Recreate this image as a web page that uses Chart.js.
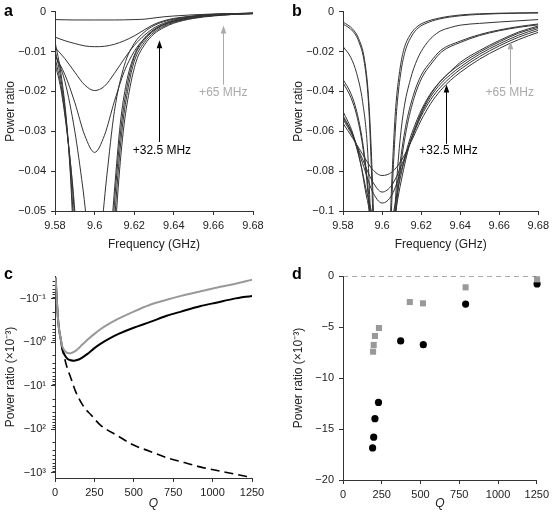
<!DOCTYPE html>
<html>
<head>
<meta charset="utf-8">
<script src="https://cdn.jsdelivr.net/npm/chart.js@4.4.1/dist/chart.umd.min.js"></script>
<style>
  body { margin: 0; background: #fff; }
  #fig { position: relative; width: 553px; height: 518px; overflow: hidden; }
  canvas { position: absolute; }
  .lbl { position: absolute; font: bold 16px 'Liberation Sans', Arial, sans-serif; line-height: 16px; color: #000; }
</style>
</head>
<body>
<div id="fig">
  <canvas id="chartA" width="276" height="259" style="left:0;top:0"></canvas>
  <canvas id="chartB" width="265" height="259" style="left:288px;top:0"></canvas>
  <canvas id="chartC" width="276" height="259" style="left:0;top:259px"></canvas>
  <canvas id="chartD" width="265" height="259" style="left:288px;top:259px"></canvas>
  <div class="lbl" style="left:4px;top:3px">a</div>
  <div class="lbl" style="left:292px;top:3px">b</div>
  <div class="lbl" style="left:4px;top:266px">c</div>
  <div class="lbl" style="left:292px;top:266px">d</div>
</div>
<script>
const FONT = "'Liberation Sans', Arial, Helvetica, sans-serif";

// ---- panel a: power ratio vs frequency (GHz), one list of [f, P] per trace
const a1 = [[9.58,-0.0020],[9.59,-0.0021],[9.60,-0.0021],[9.61,-0.0021],[9.62,-0.0020],[9.625,-0.0019],[9.63,-0.0016],[9.635,-0.0013],[9.64,-0.0011],[9.65,-0.0008],[9.66,-0.0006],[9.67,-0.0005],[9.68,-0.0004]];
const a2 = [[9.58,-0.0064],[9.585,-0.0073],[9.59,-0.0080],[9.595,-0.0086],[9.60,-0.0088],[9.605,-0.0087],[9.61,-0.0082],[9.615,-0.0073],[9.62,-0.0061],[9.625,-0.0046],[9.63,-0.0032],[9.635,-0.0023],[9.64,-0.0017],[9.65,-0.0011],[9.66,-0.0007],[9.67,-0.0005],[9.68,-0.0004]];
const a3 = [[9.58,-0.0090],[9.585,-0.0118],[9.59,-0.0152],[9.595,-0.0184],[9.60,-0.0198],[9.605,-0.0187],[9.61,-0.0155],[9.615,-0.0118],[9.62,-0.0085],[9.625,-0.0060],[9.63,-0.0041],[9.635,-0.0029],[9.64,-0.0021],[9.65,-0.0012],[9.66,-0.0008],[9.67,-0.0006],[9.68,-0.0004]];
const a4 = [[9.58,-0.0110],[9.585,-0.0158],[9.59,-0.0228],[9.595,-0.0310],[9.60,-0.0353],[9.605,-0.0310],[9.61,-0.0225],[9.615,-0.0150],[9.62,-0.0100],[9.625,-0.0068],[9.63,-0.0046],[9.635,-0.0032],[9.64,-0.0023],[9.65,-0.0013],[9.66,-0.0008],[9.67,-0.0006],[9.68,-0.0004]];
const a5 = [[9.58,-0.0105],[9.585,-0.0175],[9.59,-0.0300],[9.594,-0.0440],[9.597,-0.0560],[9.60,-0.0600],[9.603,-0.0560],[9.606,-0.0420],[9.61,-0.0250],[9.615,-0.0135],[9.62,-0.0080],[9.625,-0.0052],[9.63,-0.0035],[9.635,-0.0025],[9.64,-0.0019],[9.65,-0.0011],[9.66,-0.0007],[9.67,-0.0005],[9.68,-0.0004]];
const a6 = [[9.58,-0.0130],[9.583,-0.0195],[9.586,-0.0300],[9.589,-0.0440],[9.592,-0.0620],[9.60,-0.0900],[9.607,-0.0640],[9.61,-0.0450],[9.613,-0.0280],[9.616,-0.0180],[9.62,-0.0110],[9.625,-0.0068],[9.63,-0.0045],[9.635,-0.0032],[9.64,-0.0024],[9.65,-0.0014],[9.66,-0.0009],[9.67,-0.0006],[9.68,-0.0005]];
const a7 = [[9.58,-0.0115],[9.583,-0.0185],[9.586,-0.0295],[9.589,-0.0450],[9.5915,-0.0650],[9.60,-0.1000],[9.607,-0.0700],[9.6105,-0.0450],[9.6135,-0.0285],[9.6165,-0.0185],[9.62,-0.0115],[9.625,-0.0072],[9.63,-0.0048],[9.635,-0.0034],[9.64,-0.0025],[9.65,-0.0015],[9.66,-0.0010],[9.67,-0.0007],[9.68,-0.0005]];
const a8 = [[9.58,-0.0095],[9.583,-0.0170],[9.586,-0.0290],[9.5885,-0.0450],[9.591,-0.0680],[9.60,-0.1200],[9.608,-0.0700],[9.611,-0.0460],[9.614,-0.0290],[9.617,-0.0190],[9.62,-0.0125],[9.625,-0.0078],[9.63,-0.0052],[9.635,-0.0037],[9.64,-0.0027],[9.65,-0.0016],[9.66,-0.0010],[9.67,-0.0007],[9.68,-0.0005]];
const a9 = [[9.58,-0.0075],[9.583,-0.0155],[9.586,-0.0285],[9.588,-0.0430],[9.5905,-0.0700],[9.60,-0.1400],[9.6085,-0.0720],[9.6115,-0.0470],[9.6145,-0.0300],[9.6175,-0.0200],[9.621,-0.0125],[9.625,-0.0085],[9.63,-0.0056],[9.635,-0.0040],[9.64,-0.0029],[9.65,-0.0017],[9.66,-0.0011],[9.67,-0.0007],[9.68,-0.0005]];

// ---- panel b
const b1 = [[9.58,-0.0052],[9.585,-0.0088],[9.588,-0.0135],[9.591,-0.0240],[9.593,-0.0420],[9.5945,-0.0700],[9.5956,-0.1000],[9.60,-0.2500],[9.6044,-0.1000],[9.6057,-0.0700],[9.607,-0.0480],[9.609,-0.0300],[9.611,-0.0195],[9.6145,-0.0115],[9.618,-0.0075],[9.622,-0.0053],[9.629,-0.0033],[9.64,-0.0017],[9.65,-0.0011],[9.66,-0.0008],[9.68,-0.0005]];
const b2 = [[9.58,-0.0062],[9.585,-0.0098],[9.588,-0.0148],[9.591,-0.0260],[9.593,-0.0450],[9.5942,-0.0700],[9.5952,-0.1000],[9.60,-0.2500],[9.6048,-0.1000],[9.6062,-0.0700],[9.6076,-0.0480],[9.6097,-0.0300],[9.6118,-0.0200],[9.6152,-0.0122],[9.6185,-0.0082],[9.6225,-0.0059],[9.629,-0.0038],[9.64,-0.0021],[9.65,-0.0014],[9.66,-0.0010],[9.68,-0.0007]];
const b3 = [[9.58,-0.0175],[9.584,-0.0230],[9.587,-0.0310],[9.59,-0.0450],[9.5925,-0.0680],[9.594,-0.1000],[9.60,-0.2200],[9.6065,-0.1000],[9.6085,-0.0720],[9.611,-0.0500],[9.6145,-0.0340],[9.618,-0.0240],[9.622,-0.0170],[9.626,-0.0125],[9.63,-0.0097],[9.635,-0.0080],[9.64,-0.0068],[9.65,-0.0059],[9.66,-0.0052],[9.68,-0.0040]];
const b4 = [[9.58,-0.0340],[9.584,-0.0410],[9.587,-0.0500],[9.59,-0.0650],[9.5925,-0.0850],[9.5938,-0.1000],[9.60,-0.2000],[9.6068,-0.1000],[9.609,-0.0780],[9.612,-0.0580],[9.616,-0.0420],[9.62,-0.0320],[9.625,-0.0250],[9.63,-0.0195],[9.64,-0.0148],[9.65,-0.0115],[9.66,-0.0092],[9.67,-0.0075],[9.68,-0.0062]];
const b5 = [[9.58,-0.0356],[9.584,-0.0430],[9.587,-0.0520],[9.59,-0.0670],[9.5925,-0.0880],[9.5934,-0.1000],[9.60,-0.2000],[9.6072,-0.1000],[9.6095,-0.0780],[9.6125,-0.0590],[9.6165,-0.0430],[9.6205,-0.0330],[9.6255,-0.0258],[9.6305,-0.0202],[9.64,-0.0155],[9.65,-0.0120],[9.66,-0.0096],[9.67,-0.0079],[9.68,-0.0066]];
const b6 = [[9.58,-0.0560],[9.585,-0.0635],[9.59,-0.0715],[9.595,-0.0790],[9.60,-0.0822],[9.605,-0.0805],[9.61,-0.0745],[9.615,-0.0650],[9.62,-0.0545],[9.625,-0.0460],[9.63,-0.0395],[9.635,-0.0345],[9.64,-0.0305],[9.65,-0.0238],[9.66,-0.0185],[9.67,-0.0140],[9.68,-0.0104]];
const b7 = [[9.58,-0.0540],[9.585,-0.0625],[9.59,-0.0740],[9.595,-0.0850],[9.60,-0.0905],[9.605,-0.0870],[9.61,-0.0770],[9.615,-0.0640],[9.62,-0.0525],[9.625,-0.0440],[9.63,-0.0378],[9.635,-0.0330],[9.64,-0.0290],[9.65,-0.0225],[9.66,-0.0172],[9.67,-0.0128],[9.68,-0.0094]];
const b8 = [[9.58,-0.0530],[9.585,-0.0620],[9.59,-0.0760],[9.595,-0.0900],[9.60,-0.0960],[9.605,-0.0920],[9.61,-0.0790],[9.615,-0.0640],[9.62,-0.0515],[9.625,-0.0425],[9.63,-0.0362],[9.635,-0.0316],[9.64,-0.0278],[9.65,-0.0213],[9.66,-0.0162],[9.67,-0.0118],[9.68,-0.0085]];
const b9 = [[9.58,-0.0520],[9.585,-0.0620],[9.589,-0.0760],[9.592,-0.0900],[9.5945,-0.1000],[9.60,-0.1300],[9.606,-0.1000],[9.609,-0.0850],[9.613,-0.0680],[9.618,-0.0540],[9.623,-0.0440],[9.628,-0.0370],[9.634,-0.0310],[9.64,-0.0265],[9.65,-0.0203],[9.66,-0.0152],[9.67,-0.0108],[9.68,-0.0078]];
const b10 = [[9.58,-0.0500],[9.585,-0.0610],[9.589,-0.0760],[9.5915,-0.0900],[9.5935,-0.1000],[9.60,-0.1500],[9.607,-0.1000],[9.61,-0.0840],[9.614,-0.0670],[9.619,-0.0530],[9.624,-0.0430],[9.629,-0.0360],[9.635,-0.0300],[9.64,-0.0255],[9.65,-0.0195],[9.66,-0.0145],[9.67,-0.0102],[9.68,-0.0072]];

// arrow notes (frequency, tail, tip, text position)
const notesA = [
  { f: 9.6325, tail: -0.0327, tip: -0.0072, text: '+32.5 MHz', textF: 9.634, textY: -0.0350, color: '#000' },
  { f: 9.665, tail: -0.0183, tip: -0.0035, text: '+65 MHz', textF: 9.665, textY: -0.0203, color: '#aaa' }
];
const notesB = [
  { f: 9.6325, tail: -0.0663, tip: -0.0366, text: '+32.5 MHz', textF: 9.634, textY: -0.0698, color: '#000' },
  { f: 9.6654, tail: -0.0366, tip: -0.0149, text: '+65 MHz', textF: 9.6654, textY: -0.0406, color: '#aaa' }
];

// ---- panel c: power ratio (x1e-3) vs Q
const cQ = [4, 11, 19, 27, 36, 46, 57, 67, 80, 99, 120, 140, 162, 204, 250, 288, 350, 400, 499, 600, 709, 800, 920, 1030, 1131, 1250];
const cBlack = [-0.033, -0.1, -0.29, -0.55, -0.83, -1.45, -1.85, -2.15, -2.45, -2.62, -2.69, -2.6, -2.4, -1.9, -1.38, -1.1, -0.81, -0.66, -0.47, -0.35, -0.25, -0.2, -0.151, -0.123, -0.102, -0.087];
const cGray = [-0.033, -0.1, -0.29, -0.55, -0.83, -1.25, -1.5, -1.68, -1.79, -1.81, -1.68, -1.5, -1.26, -0.9, -0.65, -0.51, -0.37, -0.295, -0.2, -0.141, -0.107, -0.087, -0.069, -0.056, -0.047, -0.037];
const cDashQ = [42, 60, 78, 100, 131, 183, 230, 288, 400, 499, 600, 709, 820, 920, 1050, 1150, 1250];
const cDash = [-1.2, -2.3, -4.0, -6.6, -13.8, -31, -48, -81, -145, -234, -324, -457, -590, -741, -933, -1100, -1318];
const cDecades = [0.1, 1, 10, 100, 1000];
const cDecadeLabels = ['\u221210\u207B\u00B9', '\u221210\u2070', '\u221210\u00B9', '\u221210\u00B2', '\u221210\u00B3'];
const cMinor = [2, 3, 4, 5, 6, 7, 8, 9];

// ---- panel d: measured points
const dQGray = [194, 198, 206, 232, 431, 516, 791, 1252];
const dPGray = [-7.42, -6.76, -5.88, -5.1, -2.55, -2.68, -1.11, -0.33];
const dQBlack = [191, 198, 206, 229, 372, 518, 791, 1252];
const dPBlack = [-16.86, -15.8, -13.99, -12.39, -6.37, -6.73, -2.75, -0.78];
const dZero = [0, 1250];

const toPts = arr => arr.map(([x, y]) => ({ x, y }));
const minus = s => s.replace('-', '\u2212');

const arrowNotes = {
  id: 'arrowNotes',
  afterDatasetsDraw(chart, args, opts) {
    const { ctx, scales: { x, y } } = chart;
    (opts.items || []).forEach(n => {
      const px = Math.round(x.getPixelForValue(n.f)) + 0.5;
      const y0 = y.getPixelForValue(n.tail);
      const y1 = y.getPixelForValue(n.tip);
      ctx.save();
      ctx.strokeStyle = n.color;
      ctx.fillStyle = n.color;
      ctx.lineWidth = 1;
      ctx.beginPath();
      ctx.moveTo(px, y0);
      ctx.lineTo(px, y1 + 5);
      ctx.stroke();
      ctx.beginPath();
      ctx.moveTo(px, y1);
      ctx.lineTo(px - 2.8, y1 + 8);
      ctx.lineTo(px + 2.8, y1 + 8);
      ctx.closePath();
      ctx.fill();
      ctx.font = '12px ' + FONT;
      ctx.textAlign = 'center';
      ctx.textBaseline = 'middle';
      ctx.fillText(n.text, x.getPixelForValue(n.textF), y.getPixelForValue(n.textY));
      ctx.restore();
    });
  }
};

const minorTicks = {
  id: 'minorTicks',
  afterDraw(chart, args, opts) {
    if (!opts.on) return;
    const { ctx, scales: { y }, chartArea } = chart;
    ctx.save();
    ctx.strokeStyle = '#333';
    ctx.lineWidth = 1;
    y.ticks.forEach(t => {
      if (cDecades.includes(t.value)) return;
      const py = Math.round(y.getPixelForValue(t.value)) + 0.5;
      ctx.beginPath();
      ctx.moveTo(chartArea.left - 2.5, py);
      ctx.lineTo(chartArea.left, py);
      ctx.stroke();
    });
    ctx.restore();
  }
};

Chart.register(arrowNotes, minorTicks);

const tickFont = { family: FONT, size: 11 };
const titleFont = { family: FONT, size: 12 };

function axis(extra) {
  return Object.assign({
    grid: { drawOnChartArea: false, tickLength: 4, color: '#333' },
    border: { color: '#333', width: 1 },
    ticks: { font: tickFont, color: '#222', autoSkip: false, maxRotation: 0 }
  }, extra);
}

function freqScales(yMin, yStep) {
  return {
    x: axis({
      type: 'linear', min: 9.58, max: 9.68,
      ticks: { font: tickFont, color: '#222', autoSkip: false, maxRotation: 0, padding: 4, stepSize: 0.02,
        callback: v => String(Number(v.toFixed(2))) },
      title: { display: true, text: 'Frequency (GHz)', font: titleFont, color: '#222', padding: { top: 0, bottom: 7 } },
      afterFit: s => { s.height = 48; }
    }),
    y: axis({
      type: 'linear', min: yMin, max: 0,
      ticks: { font: tickFont, color: '#222', autoSkip: false, padding: 5, stepSize: yStep,
        callback: v => { const r = Number(v.toFixed(3)); return r === 0 ? '0' : minus(String(r)); } },
      title: { display: true, text: 'Power ratio', font: titleFont, color: '#222', padding: { top: 3, bottom: 0 } },
      afterFit: s => { s.width = 55; }
    })
  };
}

function qAxis(height) {
  return axis({
    type: 'linear', min: 0, max: 1250,
    ticks: { font: tickFont, color: '#222', autoSkip: false, maxRotation: 0, padding: 4, stepSize: 250,
      callback: v => String(v) },
    title: { display: true, text: 'Q', font: { family: FONT, size: 12, style: 'italic' }, color: '#222', padding: { top: 0, bottom: 7 } },
    afterFit: s => { s.height = height; }
  });
}

function traces(list, color) {
  return list.map(arr => ({
    data: toPts(arr),
    borderColor: color,
    borderWidth: 1,
    pointRadius: 0,
    cubicInterpolationMode: 'monotone',
    fill: false
  }));
}

const base = {
  animation: false,
  responsive: false,
  devicePixelRatio: 1,
  events: []
};

// panel a
new Chart(document.getElementById('chartA'), {
  type: 'line',
  data: { datasets: traces([a1, a2, a3, a4, a5, a6, a7, a8, a9], '#333') },
  options: Object.assign({}, base, {
    layout: { padding: { top: 9, right: 23, bottom: 0, left: 0 } },
    scales: freqScales(-0.05, 0.01),
    plugins: { legend: { display: false }, tooltip: { enabled: false }, arrowNotes: { items: notesA } }
  })
});

// panel b
new Chart(document.getElementById('chartB'), {
  type: 'line',
  data: { datasets: traces([b1, b2, b3, b4, b5, b6, b7, b8, b9, b10], '#333') },
  options: Object.assign({}, base, {
    layout: { padding: { top: 9, right: 12, bottom: 0, left: 0 } },
    scales: freqScales(-0.1, 0.02),
    plugins: { legend: { display: false }, tooltip: { enabled: false }, arrowNotes: { items: notesB } }
  })
});

// panel c (log magnitude, plotted downward)
const cTicks = [];
[0.01, 0.1, 1, 10, 100, 1000].forEach((d, i) => {
  if (i > 0) cTicks.push(d);
  cMinor.forEach(m => cTicks.push(m * d));
});

new Chart(document.getElementById('chartC'), {
  type: 'line',
  data: {
    datasets: [
      { data: cQ.map((q, i) => ({ x: q, y: -cGray[i] })), borderColor: '#999', borderWidth: 2, pointRadius: 0, cubicInterpolationMode: 'monotone' },
      { data: cQ.map((q, i) => ({ x: q, y: -cBlack[i] })), borderColor: '#000', borderWidth: 2, pointRadius: 0, cubicInterpolationMode: 'monotone' },
      { data: cDashQ.map((q, i) => ({ x: q, y: -cDash[i] })), borderColor: '#000', borderWidth: 1.6, borderDash: [9, 5], pointRadius: 0, cubicInterpolationMode: 'monotone' }
    ]
  },
  options: Object.assign({}, base, {
    layout: { padding: { top: 17, right: 24, bottom: 0, left: 0 } },
    scales: {
      x: qAxis(40),
      y: {
        type: 'logarithmic', reverse: true, min: 0.0304, max: 1337,
        grid: { drawOnChartArea: false, tickLength: 4,
          tickColor: c => cDecades.includes(c.tick && c.tick.value) ? '#333' : 'rgba(0,0,0,0)' },
        border: { color: '#333', width: 1 },
        afterBuildTicks: s => { s.ticks = cTicks.filter(v => v >= s.min && v <= s.max).map(v => ({ value: v })); },
        ticks: { font: tickFont, color: '#222', autoSkip: false, padding: 5,
          callback: v => { const i = cDecades.indexOf(v); return i >= 0 ? cDecadeLabels[i] : ''; } },
        title: { display: true, text: 'Power ratio (\u00D710\u207B\u00B3)', font: titleFont, color: '#222', padding: { top: 3, bottom: 0 } },
        afterFit: s => { s.width = 55; }
      }
    },
    plugins: { legend: { display: false }, tooltip: { enabled: false }, minorTicks: { on: true } }
  })
});

// panel d
new Chart(document.getElementById('chartD'), {
  type: 'scatter',
  data: {
    datasets: [
      { type: 'line', data: dZero.map(q => ({ x: q, y: 0 })), borderColor: '#555', borderWidth: 1, borderDash: [5, 4], pointRadius: 0 },
      { data: dQGray.map((q, i) => ({ x: q, y: dPGray[i] })), pointStyle: 'rect', pointRadius: 4.3, backgroundColor: '#999', borderWidth: 0, clip: false },
      { data: dQBlack.map((q, i) => ({ x: q, y: dPBlack[i] })), pointStyle: 'circle', pointRadius: 3.6, backgroundColor: '#000', borderWidth: 0, clip: false }
    ]
  },
  options: Object.assign({}, base, {
    layout: { padding: { top: 17, right: 12, bottom: 0, left: 0 } },
    scales: {
      x: qAxis(38),
      y: axis({
        type: 'linear', min: -20, max: 0,
        ticks: { font: tickFont, color: '#222', autoSkip: false, padding: 5, stepSize: 5,
          callback: v => v === 0 ? '0' : minus(String(v)) },
        title: { display: true, text: 'Power ratio (\u00D710\u207B\u00B3)', font: titleFont, color: '#222', padding: { top: 3, bottom: 0 } },
        afterFit: s => { s.width = 55; }
      })
    },
    plugins: { legend: { display: false }, tooltip: { enabled: false } }
  })
});
</script>
</body>
</html>
